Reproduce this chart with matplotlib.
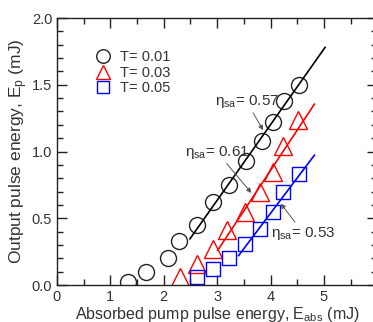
import matplotlib.pyplot as plt
from matplotlib.ticker import MultipleLocator, FixedLocator

plt.rcParams['font.family'] = ['Liberation Sans', 'DejaVu Sans']
plt.rcParams['mathtext.fontset'] = 'custom'
plt.rcParams['mathtext.rm'] = 'Liberation Sans'
plt.rcParams['mathtext.it'] = 'Liberation Sans'

# T = 0.01
x_t1 = [1.33, 1.66, 2.07, 2.29, 2.62, 2.93, 3.23, 3.53, 3.83, 4.05, 4.25, 4.54]
y_t1 = [0.02, 0.10, 0.20, 0.33, 0.45, 0.62, 0.75, 0.93, 1.08, 1.22, 1.38, 1.50]
# T = 0.03
x_t3 = [2.30, 2.62, 2.93, 3.18, 3.52, 3.81, 4.04, 4.24, 4.52]
y_t3 = [0.06, 0.16, 0.27, 0.41, 0.55, 0.70, 0.85, 1.04, 1.24]
# T = 0.05
x_t5 = [2.62, 2.93, 3.23, 3.52, 3.81, 4.05, 4.24, 4.54]
y_t5 = [0.06, 0.12, 0.20, 0.31, 0.42, 0.55, 0.70, 0.83]

# linear fits: slope, threshold, fitted range
slopes = [0.567, 0.605, 0.53]
thresholds = [1.88, 2.58, 2.985]
fit_ranges = [(2.49, 5.02), (3.01, 4.82), (3.40, 4.82)]

fig = plt.figure(figsize=(3.73, 3.22), dpi=100)
ax = fig.add_axes([0.1528, 0.1149, 0.859, 0.829])

ms = 11.5
ax.plot(x_t1, y_t1, 'o', ms=ms, mfc='none', mec='#222222', mew=1.0, label='T= 0.01')
ax.plot(x_t3, y_t3, '^', ms=ms + 1, mfc='none', mec='red', mew=1.0, label='T= 0.03')
ax.plot(x_t5, y_t5, 's', ms=ms - 1, mfc='none', mec='blue', mew=1.0, label='T= 0.05')

for s, x0, (a, b), c in zip(slopes, thresholds, fit_ranges, ['black', 'red', 'blue']):
    ax.plot([a, b], [s * (a - x0), s * (b - x0)], color=c, lw=1.2)

arrow = dict(arrowstyle='-|>', color='#555555', lw=0.7, mutation_scale=7, shrinkA=0, shrinkB=0)
lab = r'$\mathregular{\eta_{sa}}$= '
ax.annotate(lab + '0.57', xy=(3.86, 1.16), xytext=(3.55, 1.31),
            fontsize=11, color='#333333', arrowprops=arrow, ha='center', va='bottom')
ax.annotate(lab + '0.61', xy=(3.64, 0.69), xytext=(3.0, 0.93),
            fontsize=11, color='#333333', arrowprops=arrow, ha='center', va='bottom')
ax.annotate(lab + '0.53', xy=(4.19, 0.61), xytext=(4.62, 0.45),
            fontsize=11, color='#333333', arrowprops=arrow, ha='center', va='top')

ax.set_xlim(0, 6)
ax.set_ylim(0, 2.0)
ax.xaxis.set_major_locator(FixedLocator([0, 1, 2, 3, 4, 5]))
ax.xaxis.set_minor_locator(MultipleLocator(0.5))
ax.yaxis.set_major_locator(MultipleLocator(0.5))
ax.yaxis.set_minor_locator(MultipleLocator(0.1))
ax.tick_params(which='both', direction='in', top=True, right=True, labelsize=10.5,
               colors='#222222', labelcolor='#333333')
ax.tick_params(which='major', length=7, width=1.0)
ax.tick_params(which='minor', length=4, width=1.0)
ax.yaxis.set_major_formatter(plt.FormatStrFormatter('%.1f'))
for sp in ax.spines.values():
    sp.set_linewidth(1.0)
    sp.set_color('#222222')

ax.set_xlabel(r'Absorbed pump pulse energy, E$\mathregular{_{abs}}$ (mJ)', fontsize=11.5,
              color='#333333', labelpad=1)
ax.set_ylabel(r'Output pulse energy, E$\mathregular{_p}$ (mJ)', fontsize=12.5,
              color='#333333', labelpad=1)

ax.legend(loc='upper left', bbox_to_anchor=(0.07, 0.93), frameon=False, fontsize=10.5,
          markerscale=0.85, handletextpad=0.4, labelspacing=0.12, handlelength=1.5,
          labelcolor='#333333')

fig.savefig('out.png', dpi=100)
